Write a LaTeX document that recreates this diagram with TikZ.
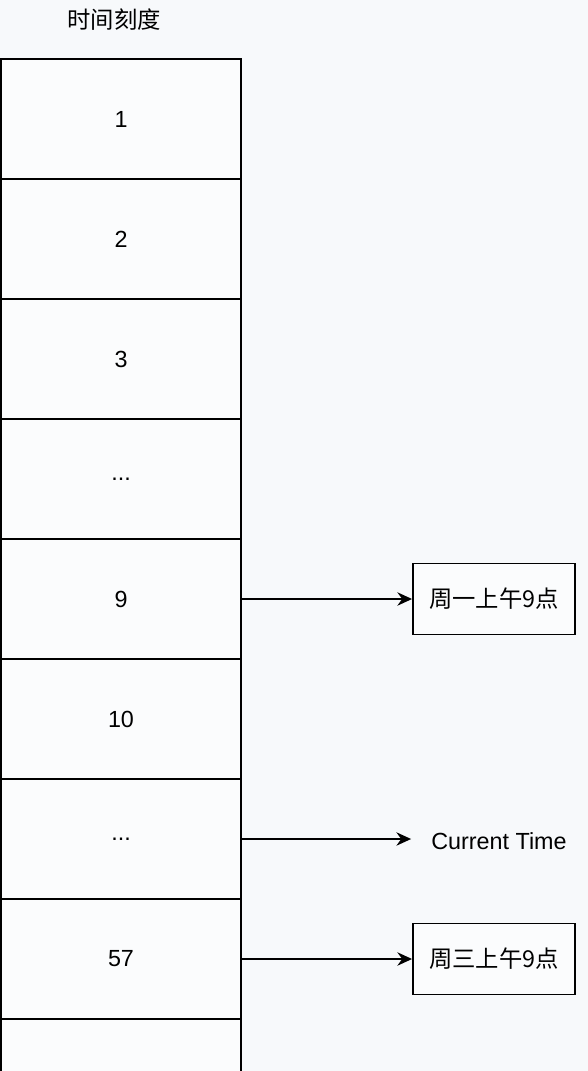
\documentclass[tikz,border=0pt]{standalone}
\usepackage{fontspec}
\setmainfont{Liberation Sans}
\newfontfamily\cjk{Noto Sans CJK SC}
\usetikzlibrary{arrows.meta}
\definecolor{bg}{HTML}{F7F9FB}
\definecolor{cellfill}{HTML}{FBFCFD}
\begin{document}
\begin{tikzpicture}[x=0.75pt,y=-0.75pt,
  cell/.style={draw=black,line width=1.4pt,fill=cellfill,minimum width=240*0.75pt,minimum height=120*0.75pt,inner sep=0pt,font=\fontsize{17.5}{19}\selectfont},
  tag/.style={draw=black,line width=1.4pt,fill=cellfill,minimum width=162*0.75pt,minimum height=71*0.75pt,inner sep=0pt,font=\cjk\fontsize{17.5}{19}\selectfont},
  plain/.style={inner sep=0pt,font=\fontsize{17.5}{19}\selectfont},
  link/.style={line width=1.4pt,-{Stealth[length=11pt,width=10pt]}}]
\useasboundingbox (0,0) rectangle (588,1071);
\fill[bg] (0,0) rectangle (588,1071);
\clip (0,0) rectangle (588,1071);
\node[plain,font=\cjk\fontsize{17.5}{19}\selectfont] (title) at (114,20) {时间刻度};
\node[cell] (c1) at (121,119) {1};
\node[cell] (c2) at (121,239) {2};
\node[cell] (c3) at (121,359) {3};
\node[cell] (c4) at (121,479) {...};
\node[cell] (c5) at (121,599) {9};
\node[cell] (c6) at (121,719) {10};
\node[cell] (c7) at (121,839) {...};
\node[cell] (c8) at (121,959) {57};
\node[cell] (c9) at (121,1079) {};
\node[tag] (t1) at (494,599) {周一上午9点};
\node[plain] (cur) at (499,841) {Current Time};
\node[tag] (t2) at (494,959) {周三上午9点};
\draw[link] (c5.east) -- (t1.west);
\draw[link] (c7.east) -- ([xshift=-15pt]cur.west |- c7.east);
\draw[link] (c8.east) -- (t2.west);
\end{tikzpicture}
\end{document}
